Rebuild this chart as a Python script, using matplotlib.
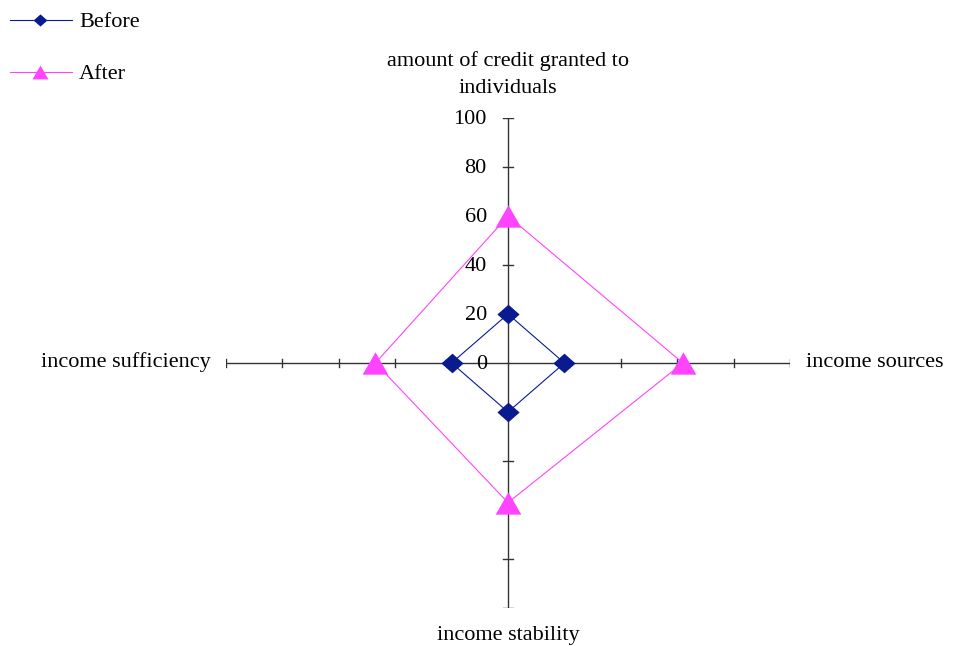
import numpy as np
import matplotlib
matplotlib.use("Agg")
import matplotlib.pyplot as plt

categories = ["amount of credit granted to\nindividuals", "income sources",
              "income stability", "income sufficiency"]
before = [20, 20, 20, 20]
after = [60, 62, 57, 47]
ticks = [0, 20, 40, 60, 80, 100]
series_names = ["Before", "After"]

FONT = "Liberation Serif"
fs = 16

fig = plt.figure(figsize=(9.66, 6.46), dpi=100)
ax = fig.add_axes([226/966, 38/646, 564/966, 490/646])
ax.set_xlim(-100, 100)
ax.set_ylim(-100, 100)
ax.axis("off")

n = len(categories)
theta = np.arange(n) * 2 * np.pi / n
sx, sy = np.sin(theta), np.cos(theta)
rmax = ticks[-1]

# spokes
for i in range(n):
    ax.plot([0, rmax * sx[i]], [0, rmax * sy[i]], color="#333333", lw=1.0, zorder=1)
    for t in ticks[1:]:
        px, py = t * sx[i], t * sy[i]
        if abs(sx[i]) > 0.5:
            ax.plot([px, px], [py - 1.8, py + 1.8], color="#333333", lw=1.0, zorder=1)
        else:
            ax.plot([px - 1.6, px + 1.6], [py, py], color="#333333", lw=1.0, zorder=1)

# radial labels
for t in ticks:
    ax.text(-7.5, t - 0.8, str(t), ha="right", va="center", fontsize=fs, family=FONT,
            color="black")

diamond = [(0, 1), (1.13, 0), (0, -1), (-1.13, 0), (0, 1)]
triangle = [(0, 1), (1.15, -1), (-1.15, -1), (0, 1)]

def draw(vals, color, marker, ms):
    v = np.array(vals + vals[:1], dtype=float)
    xs = v * np.append(sx, sx[0])
    ys = v * np.append(sy, sy[0])
    ax.plot(xs, ys, color=color, lw=0.8, zorder=2)
    ax.plot(xs[:-1], ys[:-1], ls="none", marker=marker, ms=ms, color=color,
            markeredgewidth=0, zorder=3)

draw(before, "#0A1A8F", diamond, 16)
draw(after, "#FF44FF", triangle, 18.5)

# category labels
ax.text(0, 108.0, categories[0], ha="center", va="bottom", fontsize=fs, family=FONT,
        linespacing=1.62)
ax.text(105.5, 0.2, categories[1], ha="left", va="center", fontsize=fs, family=FONT)
ax.text(0, -107.3, categories[2], ha="center", va="top", fontsize=fs, family=FONT)
ax.text(-105.3, 0.2, categories[3], ha="right", va="center", fontsize=fs, family=FONT)

# legend (manual, figure coords in pixels)
def fx(px):
    return px / 966
def fy(py):
    return 1 - py / 646

for name, color, marker, ms, ypx in [(series_names[0], "#0A1A8F", diamond, 16, 20),
                                     (series_names[1], "#FF44FF", triangle, 18.5, 72)]:
    fig.add_artist(plt.Line2D([fx(10), fx(72)], [fy(ypx), fy(ypx)], color=color, lw=0.8,
                              transform=fig.transFigure))
    fig.add_artist(plt.Line2D([fx(40)], [fy(ypx)], color=color, marker=marker, ms=ms * 0.62,
                              markeredgewidth=0, ls="none", transform=fig.transFigure))
    fig.text(fx(79), fy(ypx + 2.5), name, ha="left", va="center", fontsize=fs, family=FONT)

fig.savefig("out.png", dpi=100, facecolor="white")
